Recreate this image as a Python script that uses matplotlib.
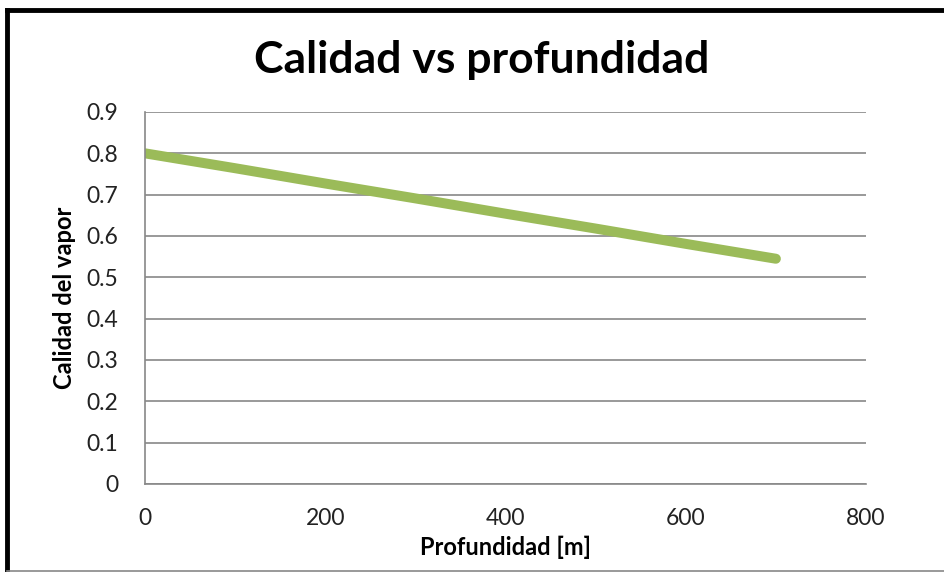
import matplotlib.pyplot as plt
from matplotlib.lines import Line2D

# profundidad [m] y calidad del vapor
profundidad = [0, 100, 200, 300, 400, 500, 600, 700]
calidad = [0.800, 0.764, 0.727, 0.691, 0.654, 0.618, 0.581, 0.545]

x_ticks = [0, 200, 400, 600, 800]
y_ticks = [0, 0.1, 0.2, 0.3, 0.4, 0.5, 0.6, 0.7, 0.8, 0.9]

plt.rcParams['font.family'] = ['Lato', 'DejaVu Sans']

fig = plt.figure(figsize=(9.44, 5.72), dpi=100)
ax = fig.add_axes([145 / 944, 1 - 484 / 572, (866 - 145) / 944, (484 - 112) / 572])

ax.plot(profundidad, calidad, color='#9BBB59', linewidth=7.2, solid_capstyle='round')

ax.set_xlim(0, 800)
ax.set_ylim(0, 0.9)
ax.set_xticks(x_ticks)
ax.set_yticks(y_ticks)
ax.set_yticklabels(['0'] + ['%.1f' % v for v in y_ticks[1:]])
ax.tick_params(length=0, labelsize=16.5, colors='#222222')
ax.tick_params(axis='y', pad=19)
ax.tick_params(axis='x', pad=17)

ax.yaxis.grid(True, color='#888888', linewidth=1.2)
ax.set_axisbelow(True)
for s in ['top', 'right']:
    ax.spines[s].set_visible(False)
for s in ['left', 'bottom']:
    ax.spines[s].set_color('#888888')
    ax.spines[s].set_linewidth(1.2)

ax.set_xlabel('Profundidad [m]', fontsize=17, fontweight='bold', labelpad=5)
ax.set_ylabel('Calidad del vapor', fontsize=17, fontweight='bold', labelpad=8)
fig.text(482 / 944, 1 - 60 / 572, 'Calidad vs profundidad', fontsize=32,
         fontweight='bold', ha='center', va='center')

# marco del grafico (recortado a la derecha)
fig.add_artist(Line2D([7 / 944, 1], [1 - 10 / 572, 1 - 10 / 572], color='black', linewidth=3.5))
fig.add_artist(Line2D([7 / 944, 7 / 944], [1 - 10 / 572, 0], color='black', linewidth=3.5))
fig.add_artist(Line2D([7 / 944, 1], [1.5 / 572, 1.5 / 572], color='#888888', linewidth=1.2))

fig.savefig('out.png', dpi=100)
